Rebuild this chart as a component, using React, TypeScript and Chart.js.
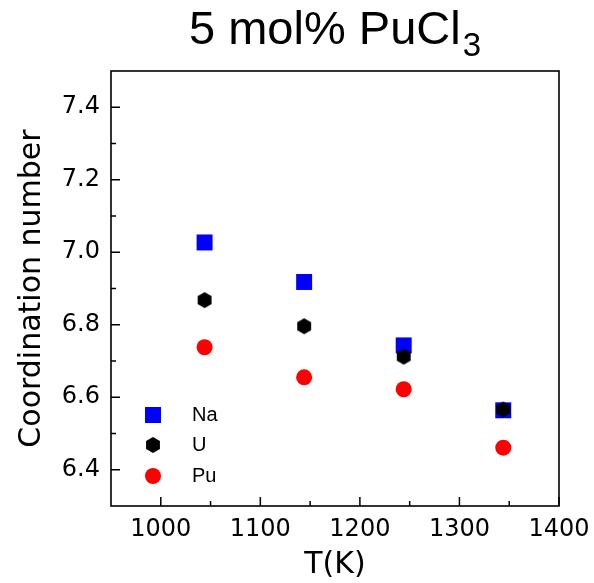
import React, { useEffect, useRef } from "react";
import { Chart, registerables } from "chart.js";

Chart.register(...registerables);

const temperatures = [1044, 1144, 1244, 1344];
const naValues = [7.027, 6.918, 6.743, 6.564];
const uValues = [6.868, 6.796, 6.712, 6.566];
const puValues = [6.738, 6.655, 6.622, 6.461];

const seriesNames = ["Na", "U", "Pu"];
const seriesColors = ["#0000ff", "#000000", "#ff0000"];

const xMajorTicks = [1000, 1100, 1200, 1300, 1400];
const xMinorTicks = [1050, 1150, 1250, 1350];
const yMajorTicks = [6.4, 6.6, 6.8, 7.0, 7.2, 7.4];
const yMinorTicks = [6.5, 6.7, 6.9, 7.1, 7.3];

const titleMain = "5 mol% PuCl";
const titleSub = "3";
const xTitle = "T(K)";
const yTitle = "Coordination number";

function makeHexagon(color: string, R: number): HTMLCanvasElement {
  const c = document.createElement("canvas");
  const w = Math.ceil(Math.sqrt(3) * R) + 2;
  const h = Math.ceil(2 * R) + 2;
  c.width = w;
  c.height = h;
  const ctx = c.getContext("2d")!;
  ctx.fillStyle = color;
  ctx.beginPath();
  for (let i = 0; i < 6; i++) {
    const a = -Math.PI / 2 + (i * Math.PI) / 3;
    const px = w / 2 + R * Math.cos(a);
    const py = h / 2 + R * Math.sin(a);
    if (i === 0) ctx.moveTo(px, py);
    else ctx.lineTo(px, py);
  }
  ctx.closePath();
  ctx.fill();
  return c;
}

function toPoints(vals: number[]) {
  return temperatures.map((t, i) => ({ x: t, y: vals[i] }));
}

export default function App() {
  const ref = useRef<HTMLCanvasElement | null>(null);

  useEffect(() => {
    if (!ref.current) return;
    const hex = makeHexagon(seriesColors[1], 8);

    const framePlugin = {
      id: "framePlugin",
      afterDraw(chart: any) {
        const ctx = chart.ctx;
        const { left, right, top, bottom } = chart.chartArea;
        const xs = chart.scales.x;
        const ys = chart.scales.y;
        ctx.save();
        ctx.strokeStyle = "#000";
        ctx.lineWidth = 1.6;
        ctx.strokeRect(left, top, right - left, bottom - top);
        ctx.lineWidth = 1.5;
        ctx.beginPath();
        xMajorTicks.forEach((v) => {
          const p = xs.getPixelForValue(v);
          ctx.moveTo(p, bottom);
          ctx.lineTo(p, bottom - 9);
        });
        xMinorTicks.forEach((v) => {
          const p = xs.getPixelForValue(v);
          ctx.moveTo(p, bottom);
          ctx.lineTo(p, bottom - 5);
        });
        yMajorTicks.forEach((v) => {
          const p = ys.getPixelForValue(v);
          ctx.moveTo(left, p);
          ctx.lineTo(left + 9, p);
        });
        yMinorTicks.forEach((v) => {
          const p = ys.getPixelForValue(v);
          ctx.moveTo(left, p);
          ctx.lineTo(left + 5, p);
        });
        ctx.stroke();

        // Title with subscript
        const mainFont = "47px 'Liberation Sans', Arial, sans-serif";
        const subFont = "33px 'Liberation Sans', Arial, sans-serif";
        ctx.font = mainFont;
        const wMain = ctx.measureText(titleMain).width;
        const startX = 189;
        ctx.fillStyle = "#000";
        ctx.textBaseline = "alphabetic";
        ctx.textAlign = "left";
        ctx.fillText(titleMain, startX, 44);
        ctx.font = subFont;
        ctx.fillText(titleSub, startX + wMain + 2, 56);

        // Legend
        const lx = left + 42;
        const rows = [415, 445, 476];
        ctx.fillStyle = seriesColors[0];
        ctx.fillRect(lx - 8, rows[0] - 8, 16, 16);
        ctx.drawImage(hex, lx - hex.width / 2, rows[1] - hex.height / 2);
        ctx.fillStyle = seriesColors[2];
        ctx.beginPath();
        ctx.arc(lx, rows[2], 8, 0, Math.PI * 2);
        ctx.fill();
        ctx.fillStyle = "#000";
        ctx.font = "20px 'Liberation Sans', Arial, sans-serif";
        ctx.textBaseline = "middle";
        seriesNames.forEach((n, i) => ctx.fillText(n, left + 81, rows[i]));
        ctx.restore();
      },
    };

    const tickFont = { family: "'DejaVu Sans', sans-serif", size: 24 };
    const titleFont = { family: "'DejaVu Sans', sans-serif", size: 30 };

    const chart = new Chart(ref.current, {
      type: "scatter",
      data: {
        datasets: [
          {
            label: seriesNames[0],
            data: toPoints(naValues),
            pointStyle: "rect",
            pointRadius: 11.3,
            pointHoverRadius: 11.3,
            backgroundColor: seriesColors[0],
            borderWidth: 0,
            order: 3,
          },
          {
            label: seriesNames[1],
            data: toPoints(uValues),
            pointStyle: hex as any,
            pointRadius: 8,
            pointHoverRadius: 8,
            backgroundColor: seriesColors[1],
            borderWidth: 0,
            order: 2,
          },
          {
            label: seriesNames[2],
            data: toPoints(puValues),
            pointStyle: "circle",
            pointRadius: 8,
            pointHoverRadius: 8,
            backgroundColor: seriesColors[2],
            borderWidth: 0,
            order: 1,
          },
        ],
      },
      options: {
        responsive: false,
        animation: false,
        devicePixelRatio: 1,
        layout: { padding: { top: 71, right: 35, left: 0, bottom: 0 } },
        plugins: {
          legend: { display: false },
          tooltip: { enabled: false },
          title: { display: false },
        },
        scales: {
          x: {
            type: "linear",
            min: 950,
            max: 1400,
            grid: { display: false, drawTicks: false, tickLength: 0 },
            border: { display: false },
            afterBuildTicks: (s: any) => {
              s.ticks = xMajorTicks.map((v) => ({ value: v }));
            },
            afterFit: (s: any) => {
              s.height = 77;
              s.paddingLeft = 0;
              s.paddingRight = 0;
            },
            ticks: {
              color: "#000",
              font: tickFont,
              padding: 9,
              maxRotation: 0,
              autoSkip: false,
              callback: (v: any) => String(v),
            },
            title: {
              display: true,
              text: xTitle,
              color: "#000",
              font: titleFont,
              padding: { top: 0, bottom: 0 },
            },
          },
          y: {
            type: "linear",
            min: 6.3,
            max: 7.5,
            grid: { display: false, drawTicks: false, tickLength: 0 },
            border: { display: false },
            afterBuildTicks: (s: any) => {
              s.ticks = yMajorTicks.map((v) => ({ value: v }));
            },
            afterFit: (s: any) => {
              s.width = 111;
              s.paddingTop = 0;
              s.paddingBottom = 0;
            },
            ticks: {
              color: "#000",
              font: tickFont,
              padding: 11,
              autoSkip: false,
              callback: (v: any) => Number(v).toFixed(1),
            },
            title: {
              display: true,
              text: yTitle,
              color: "#000",
              font: titleFont,
              padding: { top: 14, bottom: 0 },
            },
          },
        },
      },
      plugins: [framePlugin],
    } as any);

    return () => chart.destroy();
  }, []);

  return (
    <div style={{ position: "absolute", left: 0, top: 0, width: 594, height: 583, background: "#fff" }}>
      <canvas ref={ref} width={594} height={583} />
    </div>
  );
}
